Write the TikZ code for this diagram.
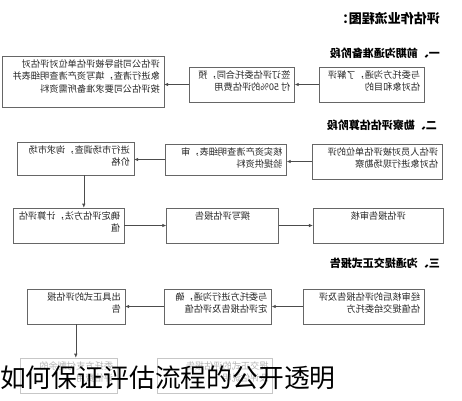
\documentclass[tikz,border=0pt]{standalone}
\usepackage{fontspec}
\setmainfont{Noto Sans CJK SC}
\usepackage{graphicx}
\usepackage{tikz}
\usetikzlibrary{positioning,arrows.meta}

% mirrored box text: width, height, lines
\newcommand{\flipbox}[3]{\reflectbox{\parbox[c][\dimexpr#2-7pt\relax][t]{\dimexpr#1-8pt\relax}{\raggedright\fontsize{9.2}{12.5}\selectfont #3}}}
\newcommand{\fliphead}[1]{\reflectbox{#1}}

\tikzstyle{block} = [rectangle, draw=black!60, line width=0.6pt, inner xsep=4pt, inner ysep=3.5pt, text=black!85]
\tikzstyle{faded} = [rectangle, draw=black!22, line width=0.6pt, inner xsep=4pt, inner ysep=3.5pt, text=black!30]
\tikzstyle{heading} = [anchor=east, inner sep=0pt, font=\bfseries\fontsize{11}{13}\selectfont]
\tikzstyle{line} = [draw=black!70, line width=0.6pt, -{Latex[length=4pt,width=3.5pt]}]

\begin{document}
\begin{tikzpicture}[x=1pt, y=-1pt]
				\useasboundingbox (0,0) rectangle (462,400);
				% Headings
				\node [heading, font=\bfseries\fontsize{13}{15}\selectfont] (title) at (440,19) {\fliphead{评估作业流程图：}};
				\node [heading] (stage1) at (440,53) {\fliphead{一、前期沟通准备阶段}};
				\node [heading] (stage2) at (437,125) {\fliphead{二、勘察评估估算阶段}};
				\node [heading] (stage3) at (440,263) {\fliphead{三、沟通提交正式报告}};
				% Place nodes
				\node [block] (talk) at (371.5,84.5) {\flipbox{105pt}{35pt}{与委托方沟通，了解评\\估对象和目的}};
				\node [block, left=24pt of talk] (contract) {\flipbox{105pt}{35pt}{签订评估委托合同，预\\付 50\%的评估费用}};
				\node [block, left=25pt of contract, yshift=3pt] (prepare) {\flipbox{162pt}{51pt}{评估公司指导被评估单位对评估对\\象进行清查，填写资产清查明细表并\\按评估公司要求准备所需资料}};
				\node [block] (survey) at (377,161.5) {\flipbox{130pt}{35pt}{评估人员对被评估单位的评\\估对象进行现场勘察}};
				\node [block, left=25pt of survey, yshift=2pt] (verify) {\flipbox{121pt}{31pt}{核实资产清查明细表，审\\验提供资料}};
				\node [block, left=31pt of verify, yshift=1pt] (market) {\flipbox{117pt}{33pt}{进行市场调查，询求市场\\价格}};
				\node [block] (method) at (68.5,225.5) {\flipbox{111pt}{35pt}{确定评估方法，计算评估\\值}};
				\node [block, right=42pt of method] (write) {\flipbox{112pt}{35pt}{\centering 撰写评估报告}};
				\node [block, right=34pt of write] (review) {\flipbox{130pt}{35pt}{\centering 评估报告审核}};
				\node [block] (submit) at (363.5,306.5) {\flipbox{121pt}{35pt}{经审核后的评估报告及评\\估值提交给委托方}};
				\node [block, left=31pt of submit] (confirm) {\flipbox{107pt}{35pt}{与委托方进行沟通，确\\定评估报告及评估值}};
				\node [block, left=39pt of confirm] (issue) {\flipbox{98pt}{35pt}{出具正式的评估报\\告}};
				\node [faded] (pay) at (68.5,375.5) {\flipbox{97pt}{35pt}{委托方支付剩余的\\评估费用}};
				\node [faded, right=40pt of pay] (deliver) {\flipbox{115pt}{35pt}{提交正式的评估报告\\及评估说明}};
				% Connectors
				\path [line] (talk) -- (contract);
				\path [line] (contract) -- (prepare.east |- contract);
				\path [line] (survey) -- (verify.east |- survey);
				\path [line] (verify) -- (market.east |- verify);
				\path [line] ([xshift=8.5pt]market.south) -- ([xshift=8.5pt]market.south |- method.north);
				\path [line] (method) -- (write);
				\path [line] (write) -- (review);
				\path [line] (submit) -- (confirm);
				\path [line] (confirm) -- (issue);
				\path [line] (issue.south) -- (issue.south |- pay.north);
				% Caption over the picture
				\node [anchor=west, inner sep=0pt, font=\fontsize{25.8}{28}\selectfont] (caption) at (0,378) {如何保证评估流程的公开透明};
				\end{tikzpicture}
\end{document}
